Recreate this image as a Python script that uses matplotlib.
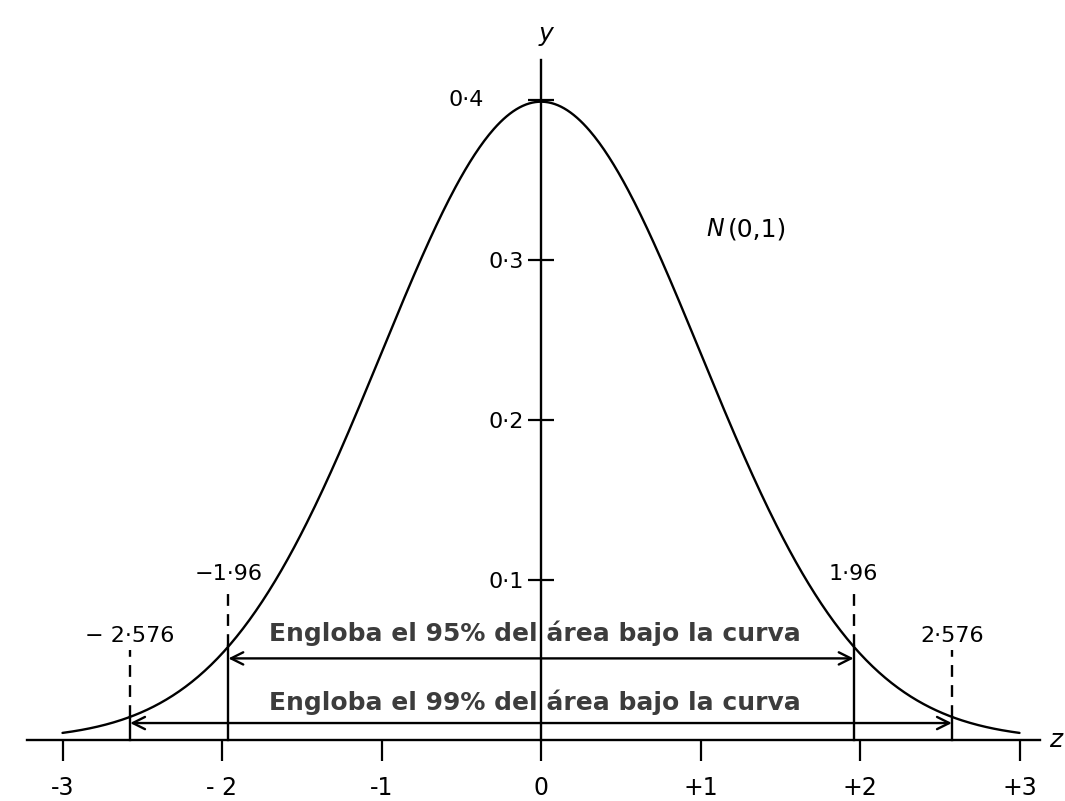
import numpy as np
import matplotlib
matplotlib.use("Agg")
import matplotlib.pyplot as plt

# ---- data ----
z_ticks = [-3, -2, -1, 0, 1, 2, 3]
z_tick_labels = ['-3', '- 2', '-1', '0', '+1', '+2', '+3']
y_ticks = [0.1, 0.2, 0.3, 0.4]
y_tick_labels = ['0·1', '0·2', '0·3', '']
y_top_label = '0·4'
crit_values = [1.96, 2.576]
crit_neg_labels = ['−1·96', '− 2·576']
crit_pos_labels = ['1·96', '2·576']
dash_tops = [0.094, 0.056]
crit_label_y = [0.104, 0.065]
arrow_heights = [0.051, 0.0106]
band_texts = ['Engloba el 95% del área bajo la curva',
              'Engloba el 99% del área bajo la curva']
band_text_y = [0.0665, 0.0235]

plt.rcParams['font.family'] = ['DejaVu Sans']

fig = plt.figure(figsize=(10.65, 8.01), dpi=100)
ax = fig.add_axes([0, 0, 1, 1])
ax.set_xlim(-541 / 159.5, (1065 - 541) / 159.5)
ax.set_ylim((740 - 801) / 1600, 740 / 1600)

def pdf(z):
    return np.exp(-0.5 * np.asarray(z) ** 2) / np.sqrt(2 * np.pi)

z = np.linspace(-3, 3, 600)
ax.plot(z, pdf(z), color='black', lw=1.7, solid_capstyle='round')

# axes
for s in ['top', 'right']:
    ax.spines[s].set_visible(False)
ax.spines['left'].set_position(('data', 0))
ax.spines['bottom'].set_position(('data', 0))
ax.spines['bottom'].set_bounds(-3.22, 3.13)
ax.spines['left'].set_bounds(0, 0.425)
for s in ['left', 'bottom']:
    ax.spines[s].set_linewidth(1.7)

ax.set_xticks(z_ticks)
ax.set_xticklabels(z_tick_labels, fontsize=17)
ax.tick_params(axis='x', direction='out', length=15, width=1.6, pad=11)
ax.set_yticks(y_ticks)
ax.set_yticklabels(y_tick_labels, fontsize=16)
ax.tick_params(axis='y', direction='inout', length=19, width=1.6, pad=3)

ax.text(-0.47, 0.4, y_top_label, fontsize=16, ha='center', va='center')
ax.text(0.03, 0.441, 'y', fontsize=18, style='italic', ha='center', va='center')
ax.text((1056 - 541) / 159.5, 0.0, 'z', fontsize=18, style='italic', ha='center', va='center')

# N(0,1)
ax.text((706 - 541) / 159.5, (740 - 229) / 1600, 'N', fontsize=17, style='italic',
        ha='left', va='center')
ax.text((728 - 541) / 159.5, (740 - 229) / 1600, '(0,1)', fontsize=18,
        ha='left', va='center')

# critical lines
for c, dt, ly, nl, pl in zip(crit_values, dash_tops, crit_label_y,
                             crit_neg_labels, crit_pos_labels):
    for sgn, lab in [(-1, nl), (1, pl)]:
        x = sgn * c
        yc = pdf(c)
        ax.plot([x, x], [0, yc], color='black', lw=1.7)
        ax.plot([x, x], [yc, dt], color='black', lw=1.7, linestyle=(0, (5, 3.5)))
        ax.text(x, ly, lab, fontsize=16, ha='center', va='center')

# arrows
for c, h in zip(crit_values, arrow_heights):
    ax.annotate('', xy=(c, h), xytext=(-c, h),
                arrowprops=dict(arrowstyle='<->', lw=1.7, color='black',
                                mutation_scale=22, shrinkA=0, shrinkB=0))

for t, y in zip(band_texts, band_text_y):
    ax.text(-0.04, y, t, fontsize=18, fontweight='bold', color='#3c3c3c',
            ha='center', va='center')

fig.savefig('out.png', dpi=100, facecolor='white')
